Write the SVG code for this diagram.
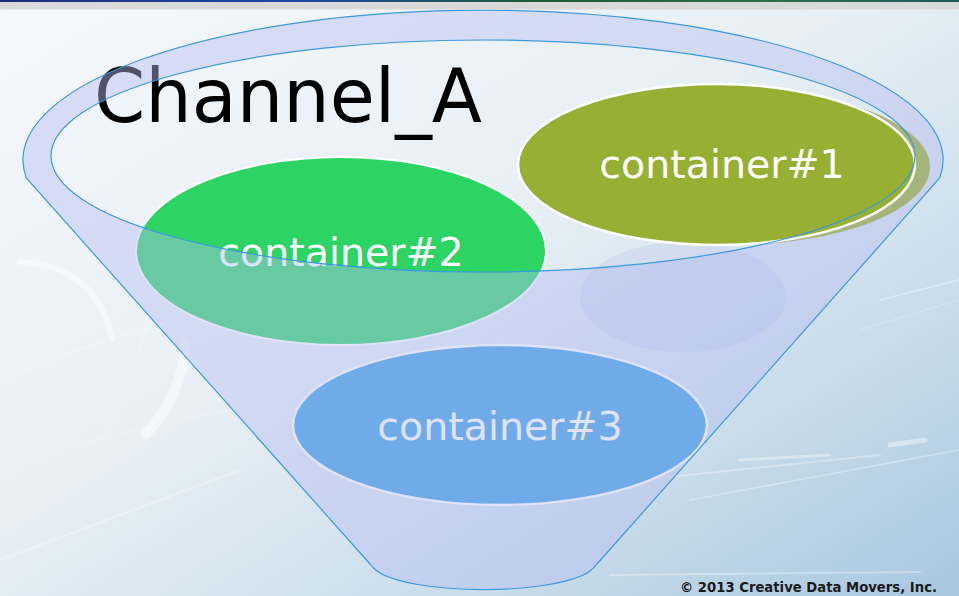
<svg xmlns="http://www.w3.org/2000/svg" width="959" height="596" viewBox="0 0 959 596">
  <defs>
    <linearGradient id="bg" x1="0" y1="0" x2="1" y2="1">
      <stop offset="0" stop-color="#f5f8fb"/>
      <stop offset="0.45" stop-color="#e7eff5"/>
      <stop offset="0.75" stop-color="#c8dcea"/>
      <stop offset="1" stop-color="#a7c7e0"/>
    </linearGradient>
    <linearGradient id="bar" x1="0" y1="0" x2="1" y2="0">
      <stop offset="0" stop-color="#1b2f7a"/>
      <stop offset="0.3" stop-color="#1e47a8"/>
      <stop offset="0.55" stop-color="#1d5a3a"/>
      <stop offset="0.8" stop-color="#2c6e4c"/>
      <stop offset="1" stop-color="#1f5a5a"/>
    </linearGradient>
    <style>
      .label { font-family: "DejaVu Sans", Verdana, sans-serif; font-size: 39.5px; text-anchor: middle; }
      .rim { fill: none; stroke: #3b9ae0; stroke-width: 1.2; }
      .streak { stroke: #ffffff; fill: none; stroke-linecap: round; }
    </style>
  </defs>

  <!-- backdrop -->
  <rect width="959" height="596" fill="url(#bg)"/>
  <g id="backdrop-decor">
    <path class="streak" d="M20 262 Q95 265 112 338" stroke-width="6" opacity="0.45"/>
    <path class="streak" d="M186 342 Q182 395 146 434" stroke-width="10" opacity="0.45"/>
    <path class="streak" d="M0 380 Q120 330 260 300" stroke-width="1" opacity="0.3"/>
    <path class="streak" d="M0 470 Q140 420 300 400" stroke-width="1" opacity="0.25"/>
    <path class="streak" d="M95 450 Q140 380 150 300" stroke-width="1" opacity="0.25"/>
    <path class="streak" d="M0 560 L240 470" stroke-width="3" opacity="0.25"/>
    <path class="streak" d="M640 480 L880 455" stroke-width="2" opacity="0.3"/>
    <path class="streak" d="M690 500 L959 450" stroke-width="1.5" opacity="0.3"/>
    <path class="streak" d="M890 445 L925 440" stroke-width="5" opacity="0.4"/>
    <path class="streak" d="M740 460 L830 455" stroke-width="3" opacity="0.35"/>
    <path class="streak" d="M610 575 L920 572" stroke-width="2" opacity="0.3"/>
    <path class="streak" d="M880 300 L959 280" stroke-width="2" opacity="0.3"/>
    <path class="streak" d="M860 330 L959 300" stroke-width="1" opacity="0.25"/>
  </g>

  <!-- title sits behind the funnel rim -->
  <g id="title">
    <text x="94" y="122" font-family="DejaVu Sans, Verdana, sans-serif" font-size="75" fill="#000000" textLength="388" lengthAdjust="spacingAndGlyphs">Channel_A</text>
  </g>

  <!-- containers inside the funnel body -->
  <g id="container2">
    <ellipse cx="341" cy="251" rx="205" ry="94" fill="#2cd464" stroke="#ffffff" stroke-width="2"/>
    <text class="label" x="341" y="266" fill="#ffffff">container#2</text>
  </g>
  <g id="container3">
    <ellipse cx="500" cy="425" rx="207" ry="80" fill="#399de2" stroke="#ffffff" stroke-width="2.5"/>
    <text class="label" x="500" y="440" fill="#ffffff">container#3</text>
  </g>

  <!-- funnel: translucent body with the open mouth cut out -->
  <g id="funnel">
    <path fill="#b6bdf2" fill-opacity="0.44" fill-rule="evenodd"
      d="M26.3 178 A460 150 0 1 1 939.7 178 L597 564 Q594 568 590 571 A112 27 0 0 1 377 571 Q373 568 370 564 Z
         M51 156 A432 116 0 1 0 915 156 A432 116 0 1 0 51 156 Z"/>
    <ellipse cx="683" cy="297" rx="103" ry="55" fill="#aab3ea" fill-opacity="0.2"/>
  </g>

  <g id="container1">
    <ellipse cx="731" cy="167" rx="199" ry="78" fill="#a5b47b"/>
    <ellipse cx="716.5" cy="164.5" rx="198.5" ry="80.5" fill="#97b034" stroke="#ffffff" stroke-width="2.5"/>
    <text class="label" x="722" y="178" fill="#ffffff">container#1</text>
  </g>

  <!-- funnel outlines drawn over everything -->
  <g id="funnel-outline">
    <path class="rim" d="M26.3 178 A460 150 0 1 1 939.7 178 L597 564 Q594 568 590 571 A112 27 0 0 1 377 571 Q373 568 370 564 Z"/>
    <ellipse class="rim" cx="483" cy="156" rx="432" ry="116"/>
  </g>

  <g id="footer">
    <text x="680" y="592" font-family="DejaVu Sans, Verdana, sans-serif" font-size="14" font-weight="bold" fill="#1a1a1a" textLength="257" lengthAdjust="spacingAndGlyphs">© 2013 Creative Data Movers, Inc.</text>
  </g>

  <!-- header strip -->
  <rect x="0" y="0" width="959" height="2" fill="url(#bar)"/>
  <rect x="0" y="2" width="959" height="7.5" fill="#d9d9d9"/>
</svg>
